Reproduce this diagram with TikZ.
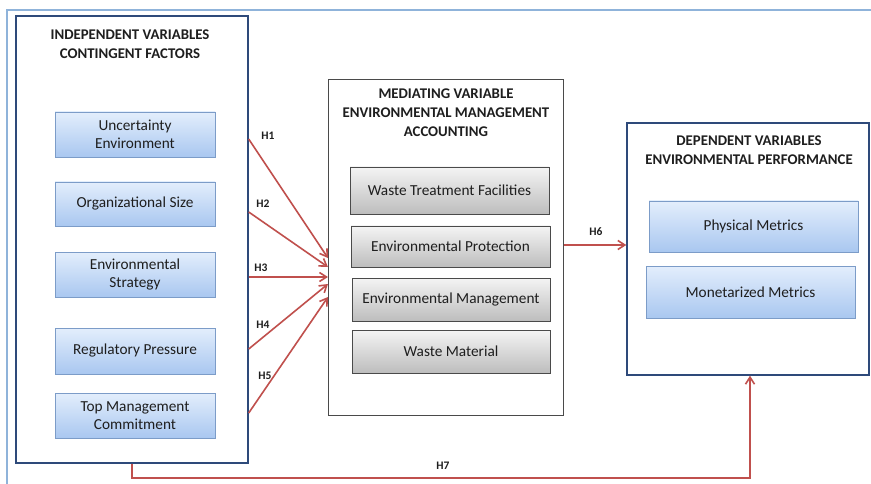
\documentclass[tikz,border=0pt]{standalone}
\usepackage{fontspec}
\setmainfont{Carlito}
\usetikzlibrary{arrows.meta,shadows}
\definecolor{framebl}{HTML}{8FB3DA}
\definecolor{navy}{HTML}{2E4A7A}
\definecolor{boxedge}{HTML}{7C9CC8}
\definecolor{bluetop}{HTML}{E3EEFC}
\definecolor{bluebot}{HTML}{A9C7F0}
\definecolor{graytop}{HTML}{F4F4F4}
\definecolor{graybot}{HTML}{BDBDBD}
\definecolor{grayedge}{HTML}{4A4A4A}
\definecolor{hred}{HTML}{C0504D}
\definecolor{ink}{HTML}{1E1E1E}
\tikzset{
  group/.style={draw, line width=1.4pt, fill=white},
  title/.style={font=\bfseries\fontsize{14.8}{19}\selectfont, text=ink, align=center},
  bluebox/.style={draw=boxedge, line width=0.8pt, top color=bluetop, bottom color=bluebot,
    align=center, text=ink, font=\fontsize{15.3}{18.5}\selectfont, inner sep=0pt,
    drop shadow={shadow xshift=1pt, shadow yshift=-1.2pt, opacity=0.35}},
  graybox/.style={draw=grayedge, line width=0.8pt, top color=graytop, bottom color=graybot,
    align=center, text=ink, font=\fontsize{15.3}{18.5}\selectfont, inner sep=0pt,
    drop shadow={shadow xshift=1pt, shadow yshift=-1.2pt, opacity=0.35}},
  hyp/.style={draw=hred, line width=1.6pt, -{Straight Barb[length=7pt, width=9pt, line width=1.6pt]}},
  hlabel/.style={font=\bfseries\fontsize{11.5}{13}\selectfont, text=ink}
}
\begin{document}
\begin{tikzpicture}[x=1pt, y=-1pt]
\useasboundingbox (0,0) rectangle (871,484);
\fill[white] (0,0) rectangle (871,484);
% outer frame, cut off at the right and bottom
\draw[framebl, line width=1.6pt] (7,484) -- (7,10) -- (871,10);

% independent variables
\node[group, draw=navy, minimum width=232pt, minimum height=447pt, inner sep=0pt] (lb) at (132,239.5) {};
\node[title] (lt) at (130,44.5) {INDEPENDENT VARIABLES\\CONTINGENT FACTORS};
\node[bluebox, minimum width=160pt, minimum height=45pt] (ue) at (135,134.5) {Uncertainty\\Environment};
\node[bluebox, minimum width=160pt, minimum height=44pt] (os) at (135,204) {Organizational Size};
\node[bluebox, minimum width=160pt, minimum height=45pt] (es) at (135,274.5) {Environmental\\Strategy};
\node[bluebox, minimum width=160pt, minimum height=46pt] (rp) at (135,351) {Regulatory Pressure};
\node[bluebox, minimum width=160pt, minimum height=45pt] (tm) at (135,415.5) {Top Management\\Commitment};

% mediating variable
\node[group, draw=grayedge, line width=1.1pt, minimum width=235pt, minimum height=336pt, inner sep=0pt] (mb) at (446,247.5) {};
\node[title] (mt) at (446,113) {MEDIATING VARIABLE\\ENVIRONMENTAL MANAGEMENT\\ACCOUNTING};
\node[graybox, minimum width=199pt, minimum height=47pt] (wt) at (449.5,190.5) {Waste Treatment Facilities};
\node[graybox, minimum width=199pt, minimum height=41pt] (ep) at (450.5,246.5) {Environmental Protection};
\node[graybox, minimum width=198pt, minimum height=43pt] (em) at (451,299.5) {Environmental Management};
\node[graybox, minimum width=198pt, minimum height=43pt] (wm) at (451,351.5) {Waste Material};

% dependent variables
\node[group, draw=navy, minimum width=242pt, minimum height=252pt, inner sep=0pt] (rb) at (748,249) {};
\node[title] (rt) at (749,150) {DEPENDENT VARIABLES\\ENVIRONMENTAL PERFORMANCE};
\node[bluebox, minimum width=209pt, minimum height=51pt] (pm) at (753.5,226.5) {Physical Metrics};
\node[bluebox, minimum width=209pt, minimum height=52pt] (mm) at (750.5,292) {Monetarized Metrics};

% hypothesis paths
\coordinate (s1) at (lb.east |- 0,139);
\coordinate (s2) at (lb.east |- 0,212);
\coordinate (s3) at (lb.east |- 0,277);
\coordinate (s4) at (lb.east |- 0,349);
\coordinate (s5) at (lb.east |- 0,413);
\coordinate (e1) at (mb.west |- 0,258);
\coordinate (e2) at (mb.west |- 0,267);
\coordinate (e3) at (mb.west |- 0,277);
\coordinate (e4) at (mb.west |- 0,284);
\coordinate (e5) at (mb.west |- 0,297);
\draw[hyp] (s1) -- (e1);
\draw[hyp] (s2) -- (e2);
\draw[hyp] (s3) -- (e3);
\draw[hyp] (s4) -- (e4);
\draw[hyp] (s5) -- (e5);
\node[hlabel] (h1) at (268,136) {H1};
\node[hlabel] (h2) at (263,204) {H2};
\node[hlabel] (h3) at (261,268) {H3};
\node[hlabel] (h4) at (263,325) {H4};
\node[hlabel] (h5) at (265,376) {H5};

\draw[hyp] (mb.east |- 0,245) -- (rb.west |- 0,245);
\node[hlabel] (h6) at (596,232) {H6};

\coordinate (b7) at (132,478);
\draw[hyp] (lb.south -| b7) -- (b7) -- (b7 -| 750,0) -- (rb.south -| 750,0);
\node[hlabel] (h7) at (443,466) {H7};
\end{tikzpicture}
\end{document}
